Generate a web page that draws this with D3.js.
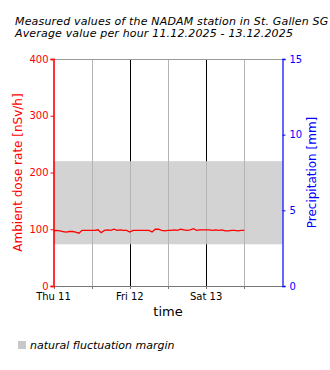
<!DOCTYPE html>
<html><head><meta charset="utf-8">
<script src="https://cdn.jsdelivr.net/npm/d3@7"></script>
<style>body{margin:0;background:#fff}svg{display:block}text{font-family:"DejaVu Sans",sans-serif}</style>
</head><body>
<svg id="c" width="330" height="370"></svg>
<script>
const titleLines = ["Measured values of the NADAM station in St. Gallen SG", "Average value per hour 11.12.2025 - 13.12.2025"];
const startTime = "2025-12-11T00:00:00";
const endTime = "2025-12-14T00:00:00";
const doseValues = [97,98,97,96,95,96,96,95,93,98,98,98,98,98,99,94,98,99,98,100,98,99,98,98,
  95,98,98,98,98,98,98,95,100,100,98,97,98,98,99,98,100,99,98,99,101,98,99,99,
  99,99,98,99,98,99,97,97,98,98,97,98,98];
const bandRange = [73.5, 220];
const leftTicks = [0,100,200,300,400];
const rightTicks = [0,5,10,15];
const dayLabels = ["Thu 11","Fri 12","Sat 13"];
const leftTitle = "Ambient dose rate [nSv/h]";
const rightTitle = "Precipitation [mm]";
const xTitle = "time";
const legendLabel = "natural fluctuation margin";

const svg = d3.select("#c");
const m = {l:53.5, r:282.5, t:59, b:286};
const t0 = new Date(startTime), t1 = new Date(endTime);
const x = d3.scaleTime().domain([t0,t1]).range([m.l,m.r]);
const y = d3.scaleLinear().domain([0,400]).range([m.b,m.t]);
const y2 = d3.scaleLinear().domain([0,15]).range([m.b,m.t]);

// title
titleLines.forEach((s,i)=>svg.append("text").attr("x",15).attr("y",25+i*12)
  .attr("font-size",11).attr("letter-spacing",0.17).attr("font-style","italic").text(s));

const halfDays = d3.timeHour.every(12).range(t0, t1);
const days = d3.timeDay.range(d3.timeDay.offset(t0,1), t1);

// band
svg.append("rect").attr("x",m.l).attr("width",m.r-m.l)
  .attr("y",y(bandRange[1])).attr("height",y(bandRange[0])-y(bandRange[1]))
  .attr("fill","#d3d3d3");

// gray grid lines
svg.append("g").selectAll("line").data(halfDays.slice(1)).join("line")
  .attr("x1",d=>Math.round(x(d))+0.5).attr("x2",d=>Math.round(x(d))+0.5)
  .attr("y1",m.t).attr("y2",m.b+3).attr("stroke","#b4b4b4").attr("stroke-width",1);

// black day lines outside band
const dl = svg.append("g");
days.forEach(d=>{
  const xx = Math.round(x(d))+0.5;
  dl.append("line").attr("x1",xx).attr("x2",xx).attr("y1",m.t).attr("y2",y(bandRange[1])).attr("stroke","#000");
  dl.append("line").attr("x1",xx).attr("x2",xx).attr("y1",y(bandRange[0])).attr("y2",m.b).attr("stroke","#000");
});

// top border and bottom axis
svg.append("line").attr("x1",m.l).attr("x2",m.r).attr("y1",m.t+0.5).attr("y2",m.t+0.5).attr("stroke","#999");
svg.append("line").attr("x1",m.l).attr("x2",m.r).attr("y1",m.b+0.5).attr("y2",m.b+0.5).attr("stroke","#777");
svg.append("g").selectAll("line").data(halfDays).join("line")
  .attr("x1",d=>Math.round(x(d))+0.5).attr("x2",d=>Math.round(x(d))+0.5)
  .attr("y1",m.b).attr("y2",m.b+3).attr("stroke","#777");

// x labels
svg.append("g").selectAll("text").data(d3.timeDay.range(t0,t1)).join("text")
  .attr("x",d=>x(d)).attr("y",300).attr("text-anchor","middle").attr("font-size",10)
  .text((d,i)=>dayLabels[i]);
svg.append("text").attr("x",(m.l+m.r)/2).attr("y",316).attr("text-anchor","middle")
  .attr("font-size",13).text(xTitle);

// line
const line = d3.line().x((d,i)=>x(d3.timeHour.offset(t0,i))).y(d=>y(d));
svg.append("path").datum(doseValues).attr("d",line).attr("fill","none")
  .attr("stroke","#ff0000").attr("stroke-width",1.3);

// left axis
const la = svg.append("g").attr("transform",`translate(${m.l},0)`)
  .call(d3.axisLeft(y).tickValues(leftTicks).tickSize(3).tickPadding(2));
la.select(".domain").attr("stroke","#ff0000").attr("stroke-width",2).attr("stroke-opacity",0.8);
la.selectAll(".tick line").attr("stroke","#ff0000");
la.selectAll("text").attr("fill","#ff0000").attr("font-size",10).attr("font-family","DejaVu Sans");
svg.append("text").attr("transform",`translate(22,${(m.t+m.b)/2}) rotate(-90)`)
  .attr("text-anchor","middle").attr("font-size",12).attr("fill","#ff0000").text(leftTitle);

// right axis
const ra = svg.append("g").attr("transform",`translate(${m.r},0)`)
  .call(d3.axisRight(y2).tickValues(rightTicks).tickSize(3).tickPadding(4));
ra.select(".domain").attr("stroke","#0000ff").attr("stroke-width",2).attr("stroke-opacity",0.6);
ra.selectAll(".tick line").attr("stroke","#0000ff");
ra.selectAll("text").attr("fill","#0000ff").attr("font-size",10).attr("font-family","DejaVu Sans");
svg.append("text").attr("transform",`translate(316,${(m.t+m.b)/2}) rotate(-90)`)
  .attr("text-anchor","middle").attr("font-size",12).attr("fill","#0000ff").text(rightTitle);

// legend
svg.append("rect").attr("x",18).attr("y",341).attr("width",8).attr("height",8).attr("fill","#c8c8c8");
svg.append("text").attr("x",30).attr("y",349).attr("font-size",11).attr("font-style","italic").text(legendLabel);
</script>
</body></html>
